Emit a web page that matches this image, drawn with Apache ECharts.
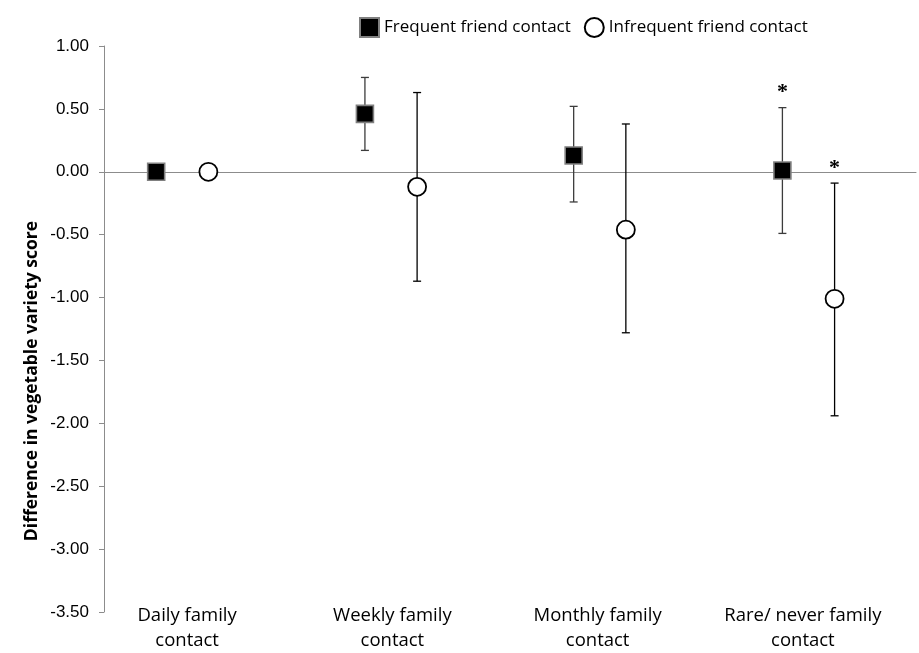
<!DOCTYPE html>
<html>
<head>
<meta charset="utf-8">
<script src="https://cdn.jsdelivr.net/npm/echarts@6/dist/echarts.min.js"></script>
<style>
  html, body { margin: 0; padding: 0; background: #fff; }
  #chart { width: 919px; height: 653px; }
</style>
</head>
<body>
<div id="chart"></div>
<script>
// Family contact groups along the horizontal axis
const categories = ['Daily family\ncontact', 'Weekly family\ncontact', 'Monthly family\ncontact', 'Rare/ never family\ncontact'];
const seriesNames = ['Frequent friend contact', 'Infrequent friend contact'];

// Difference in vegetable variety score with 95% confidence limits
const frequentMean = [0, 0.46, 0.13, 0.01];
const frequentLow = [null, 0.17, -0.24, -0.49];
const frequentHigh = [null, 0.75, 0.52, 0.51];

const infrequentMean = [0, -0.12, -0.46, -1.01];
const infrequentLow = [null, -0.87, -1.28, -1.94];
const infrequentHigh = [null, 0.63, 0.38, -0.09];

// Significance flags (drawn as an asterisk above the upper limit)
const frequentSig = [false, false, false, true];
const infrequentSig = [false, false, false, true];

const yTicks = { min: -3.5, max: 1.0, step: 0.5 };

// Horizontal placement: each group sits at index + 1, the frequent series shifted left
const groupPos = i => i + 1;
const frequentShift = -0.25;

const labelFont = '"Open Sans", Lato, sans-serif';

function points(means, shift) {
  return means.map((m, i) => [groupPos(i) + shift, m]);
}
function bars(lows, highs, sig, shift) {
  return lows.map((lo, i) => [groupPos(i) + shift, lo, highs[i], sig[i] ? 1 : 0]);
}

function errorBar(color) {
  return function (params, api) {
    const lo = api.value(1), hi = api.value(2);
    if (lo === null || hi === null || isNaN(lo) || isNaN(hi)) return null;
    const top = api.coord([api.value(0), hi]);
    const bot = api.coord([api.value(0), lo]);
    const cap = 4;
    const style = { stroke: color, lineWidth: 1.3, fill: null };
    const children = [
      { type: 'line', shape: { x1: top[0], y1: top[1], x2: bot[0], y2: bot[1] }, style },
      { type: 'line', shape: { x1: top[0] - cap, y1: top[1], x2: top[0] + cap, y2: top[1] }, style },
      { type: 'line', shape: { x1: bot[0] - cap, y1: bot[1], x2: bot[0] + cap, y2: bot[1] }, style }
    ];
    if (api.value(3) === 1) {
      children.push({
        type: 'text',
        style: {
          text: '*', x: top[0], y: top[1] - 15,
          font: 'bold 22px "Liberation Serif", serif',
          fill: '#000', align: 'center', verticalAlign: 'middle'
        }
      });
    }
    return { type: 'group', children };
  };
}

const chart = echarts.init(document.getElementById('chart'), null, { renderer: 'canvas' });

chart.setOption({
  animation: false,
  backgroundColor: '#fff',
  legend: {
    data: seriesNames,
    left: 354,
    top: 12,
    itemWidth: 19,
    itemHeight: 19,
    itemGap: 13,
    textStyle: { fontFamily: labelFont, fontSize: 17, color: '#000' }
  },
  graphic: [{
    type: 'text',
    x: 32, y: 381,
    rotation: Math.PI / 2,
    style: {
      text: 'Difference in vegetable variety score',
      font: 'bold 17.5px ' + labelFont,
      fill: '#000', align: 'center', verticalAlign: 'middle'
    }
  }],
  grid: [
    { left: 104, right: 3, top: 46, bottom: 41 },
    { left: 84.5, right: 13.5, top: 46, bottom: 53 }
  ],
  xAxis: [
    {
      type: 'value', gridIndex: 0, min: 0.5, max: 4.39,
      axisLine: { show: true, onZero: true, lineStyle: { color: '#8c8c8c', width: 1 } },
      axisTick: { show: false }, axisLabel: { show: false }, splitLine: { show: false }
    },
    {
      type: 'category', gridIndex: 1, data: categories, position: 'bottom',
      axisLine: { show: false }, axisTick: { show: false }, splitLine: { show: false },
      axisLabel: {
        interval: 0, margin: 3, lineHeight: 25,
        fontFamily: labelFont, fontSize: 18.5, color: '#000'
      }
    }
  ],
  yAxis: [
    {
      type: 'value', gridIndex: 0, min: yTicks.min, max: yTicks.max, interval: yTicks.step,
      axisLine: { show: true, lineStyle: { color: '#8c8c8c', width: 1 } },
      axisTick: { show: true, inside: false, length: 5, lineStyle: { color: '#8c8c8c' } },
      splitLine: { show: false },
      axisLabel: {
        margin: 15, fontFamily: '"Liberation Sans", Arial, sans-serif', fontSize: 17, color: '#000',
        formatter: v => v.toFixed(2)
      }
    },
    { type: 'value', gridIndex: 1, show: false, min: 0, max: 1 }
  ],
  series: [
    {
      type: 'custom', name: 'freqCI', xAxisIndex: 0, yAxisIndex: 0, z: 1,
      renderItem: errorBar('#3c3c3c'),
      encode: { x: 0, y: [1, 2] },
      data: bars(frequentLow, frequentHigh, frequentSig, frequentShift)
    },
    {
      type: 'custom', name: 'infreqCI', xAxisIndex: 0, yAxisIndex: 0, z: 1,
      renderItem: errorBar('#000'),
      encode: { x: 0, y: [1, 2] },
      data: bars(infrequentLow, infrequentHigh, infrequentSig, 0)
    },
    {
      type: 'scatter', name: seriesNames[0], xAxisIndex: 0, yAxisIndex: 0, z: 5,
      symbol: 'rect', symbolSize: 17,
      itemStyle: { color: '#000', borderColor: '#808080', borderWidth: 1.6, opacity: 1 },
      emphasis: { disabled: true },
      data: points(frequentMean, frequentShift)
    },
    {
      type: 'scatter', name: seriesNames[1], xAxisIndex: 0, yAxisIndex: 0, z: 5,
      symbol: 'circle', symbolSize: 18,
      itemStyle: { color: '#fff', borderColor: '#000', borderWidth: 1.8, opacity: 1 },
      emphasis: { disabled: true },
      data: points(infrequentMean, 0)
    }
  ]
});
</script>
</body>
</html>
